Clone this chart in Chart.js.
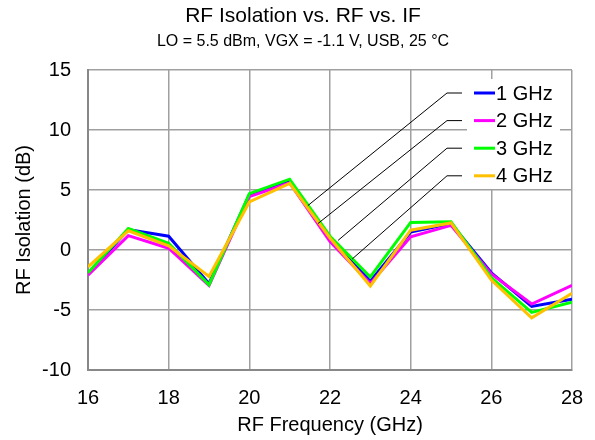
<!DOCTYPE html>
<html>
<head>
<meta charset="utf-8">
<script src="https://cdn.jsdelivr.net/npm/chart.js@4"></script>
<style>
  html, body { margin: 0; padding: 0; background: #fff; }
  #wrap { width: 595px; height: 440px; }
</style>
</head>
<body>
<div id="wrap"><canvas id="cht" width="595" height="440"></canvas></div>
<script>
const rfFreq = [16, 17, 18, 19, 20, 21, 22, 23, 24, 25, 26, 27, 28];
const ifLabels = ["1 GHz", "2 GHz", "3 GHz", "4 GHz"];
const iso1 = [-2.0, 1.7, 1.15, -2.8, 4.6, 5.75, 0.9, -2.6, 1.5, 2.2, -1.9, -4.7, -4.1];
const iso2 = [-2.1, 1.2, 0.15, -2.95, 4.45, 5.6, 0.7, -2.8, 1.1, 2.05, -2.0, -4.5, -2.95];
const iso3 = [-1.9, 1.8, 0.55, -2.9, 4.7, 5.9, 1.15, -2.25, 2.3, 2.35, -2.3, -5.2, -4.35];
const iso4 = [-1.4, 1.6, 0.35, -2.2, 4.0, 5.55, 1.0, -3.0, 1.65, 2.25, -2.5, -5.65, -3.6];
// where each legend leader line lands on the curves (GHz, dB)
const leaderX = [21.45, 21.7, 22.2, 22.55];
const leaderY = [3.7, 2.2, 0.8, -0.75];

const colors = ["#0000ff", "#ff00ff", "#00ff00", "#ffc000"];
const FONT = "'Liberation Sans', Arial, sans-serif";

function pts(vals) {
    return vals.map((v, i) => ({x: rfFreq[i], y: v}));
}

// legend box in the top right corner with leader lines to the curves
const legendPlugin = {
    id: "boxLegend",
    beforeDatasetsDraw(chart) {
        const {ctx, chartArea: a} = chart;
        ctx.save();
        ctx.fillStyle = "#fff";
        ctx.fillRect(a.right - 105, a.top + 9, 93, 110);
        ctx.restore();
    },
    afterDatasetsDraw(chart) {
        const {ctx, chartArea: a, scales} = chart;
        ctx.save();
        for (let i = 0; i < ifLabels.length; i++) {
            const y = a.top + 23 + i * 27.6;
            // leader
            ctx.strokeStyle = "#000";
            ctx.lineWidth = 1;
            ctx.beginPath();
            ctx.moveTo(a.right - 110, y);
            ctx.lineTo(a.right - 125, y);
            ctx.lineTo(scales.x.getPixelForValue(leaderX[i]), scales.y.getPixelForValue(leaderY[i]));
            ctx.stroke();
            // sample line
            ctx.strokeStyle = colors[i];
            ctx.lineWidth = 3;
            ctx.beginPath();
            ctx.moveTo(a.right - 98, y);
            ctx.lineTo(a.right - 77, y);
            ctx.stroke();
            ctx.fillStyle = "#000";
            ctx.font = "20px " + FONT;
            ctx.textBaseline = "middle";
            ctx.fillText(ifLabels[i], a.right - 76, y + 1);
        }
        ctx.restore();
    }
};

new Chart(document.getElementById("cht"), {
    type: "line",
    data: {
        datasets: [
            {label: ifLabels[0], data: pts(iso1), borderColor: colors[0], order: 3},
            {label: ifLabels[1], data: pts(iso2), borderColor: colors[1], order: 2},
            {label: ifLabels[2], data: pts(iso3), borderColor: colors[2], order: 1},
            {label: ifLabels[3], data: pts(iso4), borderColor: colors[3], order: 0}
        ]
    },
    options: {
        responsive: false,
        animation: false,
        devicePixelRatio: 1,
        layout: {padding: {left: 34, right: 23, top: 0, bottom: 0}},
        elements: {
            line: {borderWidth: 3, tension: 0, fill: false},
            point: {radius: 0}
        },
        plugins: {
            legend: {display: false},
            tooltip: {enabled: false},
            title: {
                display: true,
                text: "RF Isolation vs. RF vs. IF",
                color: "#000",
                font: {family: FONT, size: 21, weight: "normal"},
                padding: {top: 4, bottom: 0}
            },
            subtitle: {
                display: true,
                text: "LO = 5.5 dBm, VGX = -1.1 V, USB, 25 °C",
                color: "#000",
                font: {family: FONT, size: 16, weight: "normal"},
                padding: {top: 3, bottom: 18.6}
            }
        },
        scales: {
            x: {
                type: "linear",
                min: 16,
                max: 28,
                ticks: {stepSize: 2, color: "#000", padding: 16, font: {family: FONT, size: 20}},
                grid: {color: "#a0a0a0", lineWidth: 1.5, drawTicks: false},
                border: {color: "#888", width: 2},
                title: {
                    display: true,
                    text: "RF Frequency (GHz)",
                    color: "#000",
                    font: {family: FONT, size: 20},
                    padding: {top: 0, bottom: 2.5}
                },
                afterFit(s) {
                    s.height = 70;
                    s.paddingLeft = 0;
                    s.paddingRight = 0;
                }
            },
            y: {
                min: -10,
                max: 15,
                ticks: {stepSize: 5, color: "#000", padding: 17, font: {family: FONT, size: 20}},
                grid: {color: "#a0a0a0", lineWidth: 1.5, drawTicks: false},
                border: {color: "#888", width: 2},
                title: {
                    display: true,
                    text: "RF Isolation (dB)",
                    color: "#000",
                    font: {family: FONT, size: 20},
                    padding: {top: -22, bottom: 0}
                },
                afterFit(s) { s.width = 54; }
            }
        }
    },
    plugins: [legendPlugin]
});
</script>
</body>
</html>
